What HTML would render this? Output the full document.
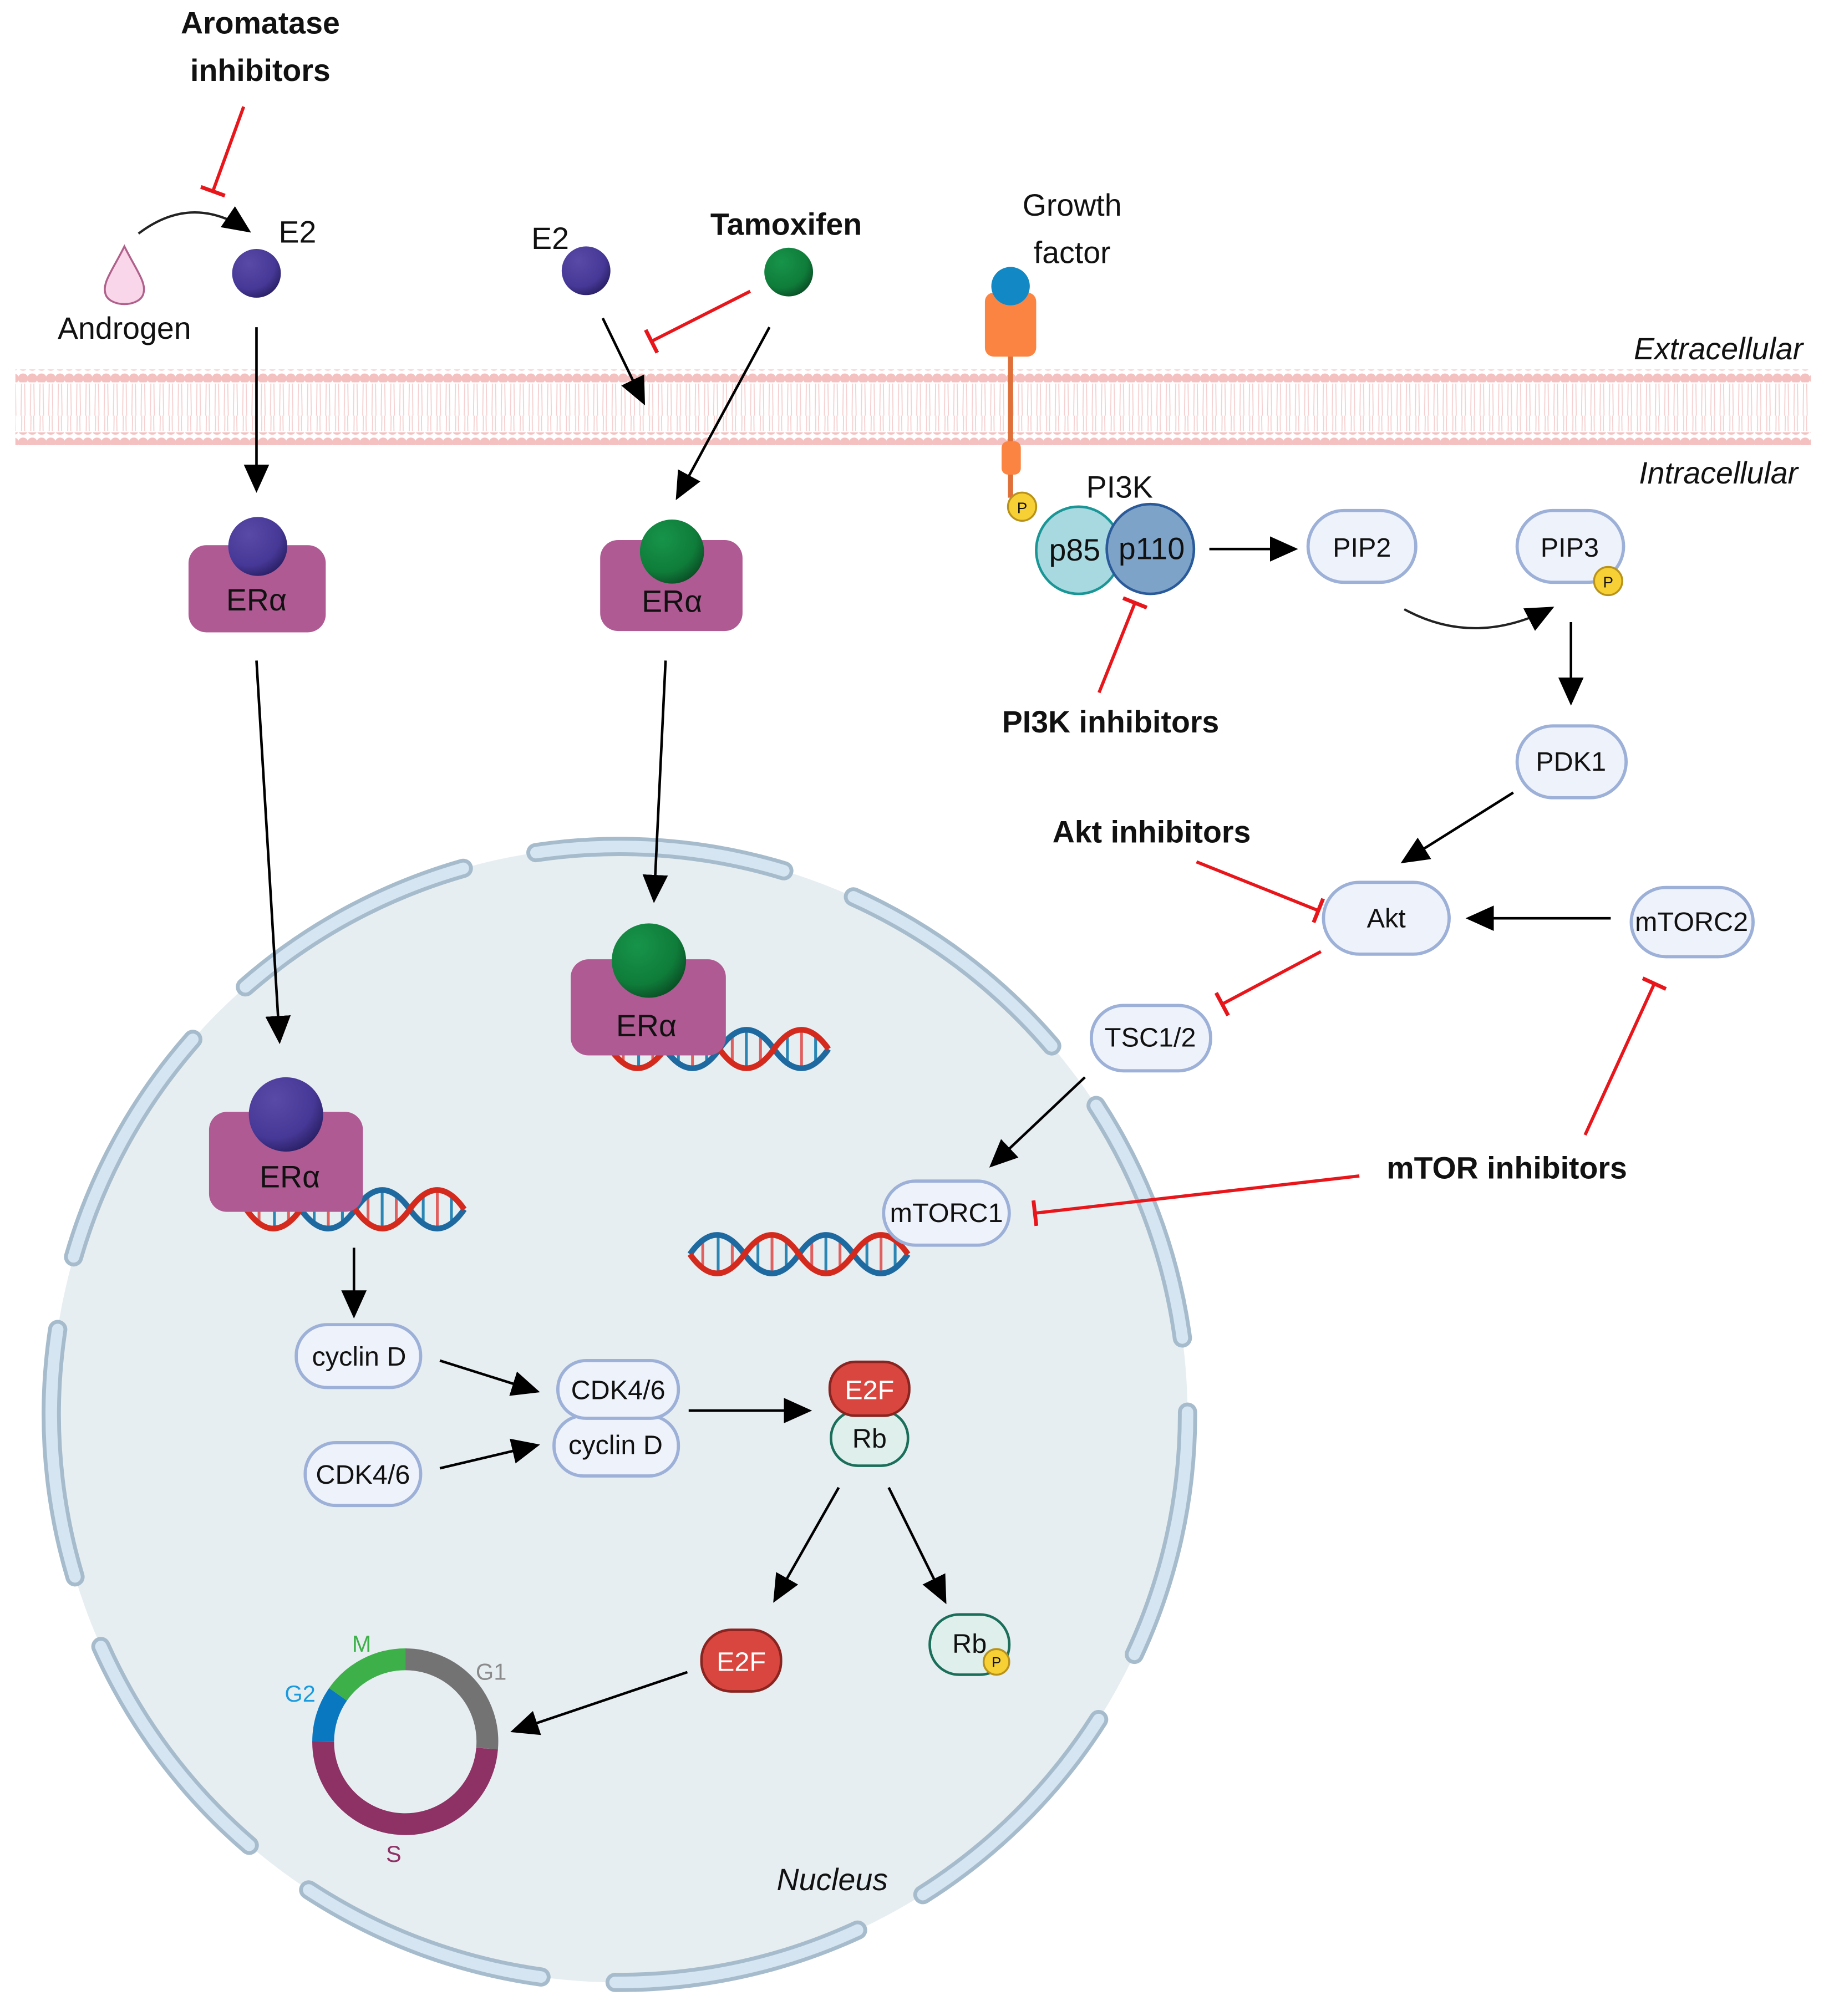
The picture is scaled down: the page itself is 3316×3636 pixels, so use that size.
<!DOCTYPE html>
<html><head><meta charset="utf-8"><style>
html,body{margin:0;padding:0;background:#fff}
svg{display:block}
text{font-family:"Liberation Sans","DejaVu Sans",sans-serif;fill:#111}
.b{font-weight:bold;font-size:24px}
.l{font-size:24px}
.n{font-size:21px}
</style></head><body>
<svg width="3316" height="3636" viewBox="0 0 1434 1572" xmlns="http://www.w3.org/2000/svg">
<defs>
<marker id="arr" viewBox="0 0 10 10" refX="9" refY="5" markerWidth="22" markerHeight="22" markerUnits="userSpaceOnUse" orient="auto"><path d="M0,0.5L10,5L0,9.5z" fill="#000"/></marker>
<marker id="inh" viewBox="0 0 4 20" refX="2" refY="10" markerWidth="4" markerHeight="20" markerUnits="userSpaceOnUse" orient="auto"><rect x="0.5" y="0" width="3" height="20" fill="#e8161b"/></marker>
<pattern id="head" width="7.2" height="10" patternUnits="userSpaceOnUse"><circle cx="3.6" cy="5" r="3.9" fill="#f4c0c0"/></pattern>
<pattern id="tail" width="7.2" height="36" patternUnits="userSpaceOnUse"><path d="M2.6,0L2,36M4.6,0L5.2,36" stroke="#f6d0d0" stroke-width="0.8" fill="none"/></pattern>
<radialGradient id="gp" cx="0.35" cy="0.3" r="0.75"><stop offset="0" stop-color="#5a4aa8"/><stop offset="0.7" stop-color="#463896"/><stop offset="1" stop-color="#2a2066"/></radialGradient>
<radialGradient id="gg" cx="0.35" cy="0.3" r="0.75"><stop offset="0" stop-color="#17944a"/><stop offset="0.7" stop-color="#0f7c3a"/><stop offset="1" stop-color="#0a4f25"/></radialGradient>
<g id="dna">
<g stroke-width="2.2">
<line x1="10" y1="8" x2="10" y2="28" stroke="#e06060"/><line x1="22" y1="4" x2="22" y2="32" stroke="#2a86b4"/><line x1="33" y1="6" x2="33" y2="30" stroke="#e06060"/>
<line x1="53" y1="8" x2="53" y2="28" stroke="#2a86b4"/><line x1="64" y1="4" x2="64" y2="32" stroke="#e06060"/><line x1="75" y1="6" x2="75" y2="30" stroke="#2a86b4"/>
<line x1="95" y1="8" x2="95" y2="28" stroke="#e06060"/><line x1="106" y1="4" x2="106" y2="32" stroke="#2a86b4"/><line x1="117" y1="6" x2="117" y2="30" stroke="#e06060"/>
<line x1="138" y1="8" x2="138" y2="28" stroke="#2a86b4"/><line x1="149" y1="4" x2="149" y2="32" stroke="#e06060"/><line x1="160" y1="6" x2="160" y2="30" stroke="#2a86b4"/>
</g>
<path d="M0,18 Q21,-12 42.5,18 T85,18 T127.5,18 T170,18" fill="none" stroke="#1e6aa0" stroke-width="4.5"/>
<path d="M0,18 Q21,48 42.5,18 T85,18 T127.5,18 T170,18" fill="none" stroke="#d42a1e" stroke-width="4.5"/>
</g>
</defs>

<!-- membrane -->
<rect x="12" y="299" width="1400" height="37" fill="url(#tail)"/>
<rect x="12" y="288" width="1400" height="10" fill="url(#head)"/>
<rect x="12" y="337" width="1400" height="10" fill="url(#head)"/>
<text x="1340" y="280" class="l" font-style="italic" text-anchor="middle" font-size="21">Extracellular</text>
<text x="1340" y="377" class="l" font-style="italic" text-anchor="middle" font-size="21">Intracellular</text>

<!-- nucleus -->
<circle cx="483" cy="1103" r="443" fill="#e7eef1"/>
<circle cx="483" cy="1103" r="443" fill="none" stroke="#a6bccd" stroke-width="15" stroke-dasharray="195 58" stroke-linecap="round" transform="rotate(-98.4 483 1103)"/>
<circle cx="483" cy="1103" r="443" fill="none" stroke="#d5e5f2" stroke-width="9" stroke-dasharray="195 58" stroke-linecap="round" transform="rotate(-98.4 483 1103)"/>
<text x="649" y="1474" class="l" font-style="italic" text-anchor="middle" font-size="21">Nucleus</text>

<!-- top left -->
<text x="203" y="26" class="b" text-anchor="middle">Aromatase</text>
<text x="203" y="63" class="b" text-anchor="middle">inhibitors</text>
<line x1="190" y1="83" x2="166" y2="149" stroke="#e8161b" stroke-width="2.5" marker-end="url(#inh)"/>
<path d="M97,192 C88,210 80,220 82,228 C84,240 110,240 112,228 C114,220 106,210 97,192z" fill="#f9d6ea" stroke="#b0608a" stroke-width="1.5"/>
<text x="97" y="264" class="l" text-anchor="middle">Androgen</text>
<path d="M108,182 Q150,150 194,180" fill="none" stroke="#222" stroke-width="1.8" marker-end="url(#arr)"/>
<text x="232" y="189" class="l" text-anchor="middle">E2</text>
<circle cx="200" cy="213" r="19" fill="url(#gp)"/>
<line x1="200" y1="255" x2="200" y2="382" stroke="#000" stroke-width="2" marker-end="url(#arr)"/>

<text x="429" y="194" class="l" text-anchor="middle">E2</text>
<circle cx="457" cy="211" r="19" fill="url(#gp)"/>
<text x="613" y="183" class="b" text-anchor="middle">Tamoxifen</text>
<circle cx="615" cy="212" r="19" fill="url(#gg)"/>
<line x1="585" y1="227" x2="508" y2="266" stroke="#e8161b" stroke-width="2.5" marker-end="url(#inh)"/>
<line x1="470" y1="248" x2="502" y2="314" stroke="#000" stroke-width="2" marker-end="url(#arr)"/>
<line x1="600" y1="255" x2="528" y2="388" stroke="#000" stroke-width="2" marker-end="url(#arr)"/>

<!-- ERa top -->
<rect x="147" y="425" width="107" height="68" rx="14" fill="#b05a94"/>
<circle cx="201" cy="426" r="23" fill="url(#gp)"/>
<text x="200" y="476" class="l" text-anchor="middle">ERα</text>
<rect x="468" y="421" width="111" height="71" rx="14" fill="#b05a94"/>
<circle cx="524" cy="430" r="25" fill="url(#gg)"/>
<text x="524" y="477" class="l" text-anchor="middle">ERα</text>
<line x1="200" y1="515" x2="218" y2="812" stroke="#000" stroke-width="2" marker-end="url(#arr)"/>
<line x1="519" y1="515" x2="510" y2="702" stroke="#000" stroke-width="2" marker-end="url(#arr)"/>

<!-- ERa in nucleus -->
<use href="#dna" x="476" y="800"/>
<rect x="445" y="748" width="121" height="75" rx="14" fill="#b05a94"/>
<circle cx="506" cy="749" r="29" fill="url(#gg)"/>
<text x="504" y="808" class="l" text-anchor="middle">ERα</text>
<use href="#dna" x="192" y="925"/>
<rect x="163" y="867" width="120" height="78" rx="14" fill="#b05a94"/>
<circle cx="223" cy="869" r="29" fill="url(#gp)"/>
<text x="226" y="926" class="l" text-anchor="middle">ERα</text>
<use href="#dna" x="538" y="960"/>

<!-- growth factor receptor -->
<text x="836" y="168" class="l" text-anchor="middle">Growth</text>
<text x="836" y="205" class="l" text-anchor="middle">factor</text>
<line x1="788" y1="270" x2="788" y2="388" stroke="#e0703a" stroke-width="4"/>
<rect x="768" y="228" width="40" height="50" rx="7" fill="#fb8443"/>
<circle cx="788" cy="223" r="15" fill="#1289c4"/>
<rect x="781" y="344" width="15" height="26" rx="5" fill="#fb8443"/>
<circle cx="797" cy="395" r="11" fill="#f6d035" stroke="#b8921a" stroke-width="1.5"/>
<text x="797" y="400" font-size="12" text-anchor="middle">P</text>

<!-- PI3K -->
<text x="873" y="388" class="l" text-anchor="middle">PI3K</text>
<ellipse cx="841" cy="429" rx="33" ry="34" fill="#a8d8e0" stroke="#1a9696" stroke-width="2"/>
<ellipse cx="897" cy="428" rx="34" ry="35" fill="#7ea3c8" stroke="#2a5a9a" stroke-width="2"/>
<text x="838" y="437" class="l" text-anchor="middle">p85</text>
<text x="898" y="436" class="l" text-anchor="middle">p110</text>
<line x1="943" y1="428" x2="1010" y2="428" stroke="#000" stroke-width="2" marker-end="url(#arr)"/>
<text x="866" y="571" class="b" text-anchor="middle">PI3K inhibitors</text>
<line x1="857" y1="540" x2="885" y2="470" stroke="#e8161b" stroke-width="2.5" marker-end="url(#inh)"/>

<g fill="#eef3fb" stroke="#9db0d8" stroke-width="2.5">
<rect x="1020" y="398" width="84" height="56" rx="28"/>
<rect x="1183" y="398" width="83" height="56" rx="28"/>
<rect x="1183" y="566" width="85" height="56" rx="28"/>
<rect x="1032" y="688" width="98" height="56" rx="28"/>
<rect x="1272" y="692" width="95" height="54" rx="27"/>
<rect x="851" y="784" width="93" height="51" rx="25"/>
<rect x="689" y="921" width="98" height="50" rx="25"/>
<rect x="231" y="1033" width="97" height="49" rx="24"/>
<rect x="238" y="1125" width="90" height="49" rx="24"/>
<rect x="432" y="1104" width="97" height="47" rx="23"/>
<rect x="435" y="1061" width="94" height="45" rx="22"/>
</g>
<text x="1062" y="434" class="n" text-anchor="middle">PIP2</text>
<text x="1224" y="434" class="n" text-anchor="middle">PIP3</text>
<circle cx="1254" cy="453" r="11" fill="#f6d035" stroke="#b8921a" stroke-width="1.5"/>
<text x="1254" y="458" font-size="12" text-anchor="middle">P</text>
<path d="M1095,475 Q1150,505 1210,474" fill="none" stroke="#222" stroke-width="1.8" marker-end="url(#arr)"/>
<line x1="1225" y1="485" x2="1225" y2="548" stroke="#000" stroke-width="2" marker-end="url(#arr)"/>
<text x="1225" y="601" class="n" text-anchor="middle">PDK1</text>
<line x1="1180" y1="618" x2="1094" y2="672" stroke="#000" stroke-width="2" marker-end="url(#arr)"/>
<text x="898" y="657" class="b" text-anchor="middle">Akt inhibitors</text>
<line x1="933" y1="672" x2="1028" y2="710" stroke="#e8161b" stroke-width="2.5" marker-end="url(#inh)"/>
<text x="1081" y="723" class="n" text-anchor="middle">Akt</text>
<line x1="1256" y1="716" x2="1145" y2="716" stroke="#000" stroke-width="2" marker-end="url(#arr)"/>
<text x="1319" y="726" class="n" text-anchor="middle">mTORC2</text>
<line x1="1030" y1="742" x2="953" y2="783" stroke="#e8161b" stroke-width="2.5" marker-end="url(#inh)"/>
<text x="897" y="816" class="n" text-anchor="middle">TSC1/2</text>
<line x1="846" y1="840" x2="773" y2="909" stroke="#000" stroke-width="2" marker-end="url(#arr)"/>
<text x="738" y="953" class="n" text-anchor="middle">mTORC1</text>
<text x="1175" y="919" class="b" text-anchor="middle">mTOR inhibitors</text>
<line x1="1060" y1="917" x2="807" y2="946" stroke="#e8161b" stroke-width="2.5" marker-end="url(#inh)"/>
<line x1="1236" y1="885" x2="1290" y2="767" stroke="#e8161b" stroke-width="2.5" marker-end="url(#inh)"/>

<!-- cell cycle pathway -->
<line x1="276" y1="973" x2="276" y2="1026" stroke="#000" stroke-width="2" marker-end="url(#arr)"/>
<text x="280" y="1065" class="n" text-anchor="middle">cyclin D</text>
<text x="283" y="1157" class="n" text-anchor="middle">CDK4/6</text>
<line x1="343" y1="1061" x2="419" y2="1085" stroke="#000" stroke-width="2" marker-end="url(#arr)"/>
<line x1="343" y1="1145" x2="419" y2="1127" stroke="#000" stroke-width="2" marker-end="url(#arr)"/>
<text x="482" y="1091" class="n" text-anchor="middle">CDK4/6</text>
<text x="480" y="1134" class="n" text-anchor="middle">cyclin D</text>
<line x1="537" y1="1100" x2="631" y2="1100" stroke="#000" stroke-width="2" marker-end="url(#arr)"/>
<rect x="648" y="1100" width="60" height="43" rx="21" fill="#dff0ec" stroke="#1a6e5a" stroke-width="2"/>
<text x="678" y="1129" class="n" text-anchor="middle">Rb</text>
<rect x="647" y="1062" width="62" height="42" rx="20" fill="#d9463f" stroke="#8a2420" stroke-width="2"/>
<text x="678" y="1091" class="n" text-anchor="middle" style="fill:#fff">E2F</text>
<line x1="654" y1="1160" x2="604" y2="1248" stroke="#000" stroke-width="2" marker-end="url(#arr)"/>
<line x1="693" y1="1160" x2="737" y2="1249" stroke="#000" stroke-width="2" marker-end="url(#arr)"/>
<rect x="547" y="1271" width="62" height="48" rx="23" fill="#d9463f" stroke="#8a2420" stroke-width="2"/>
<text x="578" y="1303" class="n" text-anchor="middle" style="fill:#fff">E2F</text>
<rect x="725" y="1259" width="62" height="47" rx="23" fill="#dff0ec" stroke="#1a6e5a" stroke-width="2"/>
<text x="756" y="1289" class="n" text-anchor="middle">Rb</text>
<circle cx="777" cy="1296" r="10" fill="#f6d035" stroke="#b8921a" stroke-width="1.5"/>
<text x="777" y="1300" font-size="11" text-anchor="middle">P</text>
<line x1="536" y1="1304" x2="400" y2="1350" stroke="#000" stroke-width="2" marker-end="url(#arr)"/>

<g fill="none" stroke-width="17">
<path d="M316,1294 A64,64 0 0 1 379.8,1363.6" stroke="#737373"/>
<path d="M379.8,1363.6 A64,64 0 0 1 252,1358" stroke="#8e3265"/>
<path d="M252,1358 A64,64 0 0 1 263.6,1321.3" stroke="#0a78c0"/>
<path d="M263.6,1321.3 A64,64 0 0 1 316,1294" stroke="#3db04a"/>
</g>
<text x="282" y="1288" font-size="18" text-anchor="middle" style="fill:#3db04a">M</text>
<text x="383" y="1310" font-size="18" text-anchor="middle" style="fill:#8a8a8a">G1</text>
<text x="234" y="1327" font-size="18" text-anchor="middle" style="fill:#1a9be0">G2</text>
<text x="307" y="1452" font-size="18" text-anchor="middle" style="fill:#8e3265">S</text>
</svg>
</body></html>
